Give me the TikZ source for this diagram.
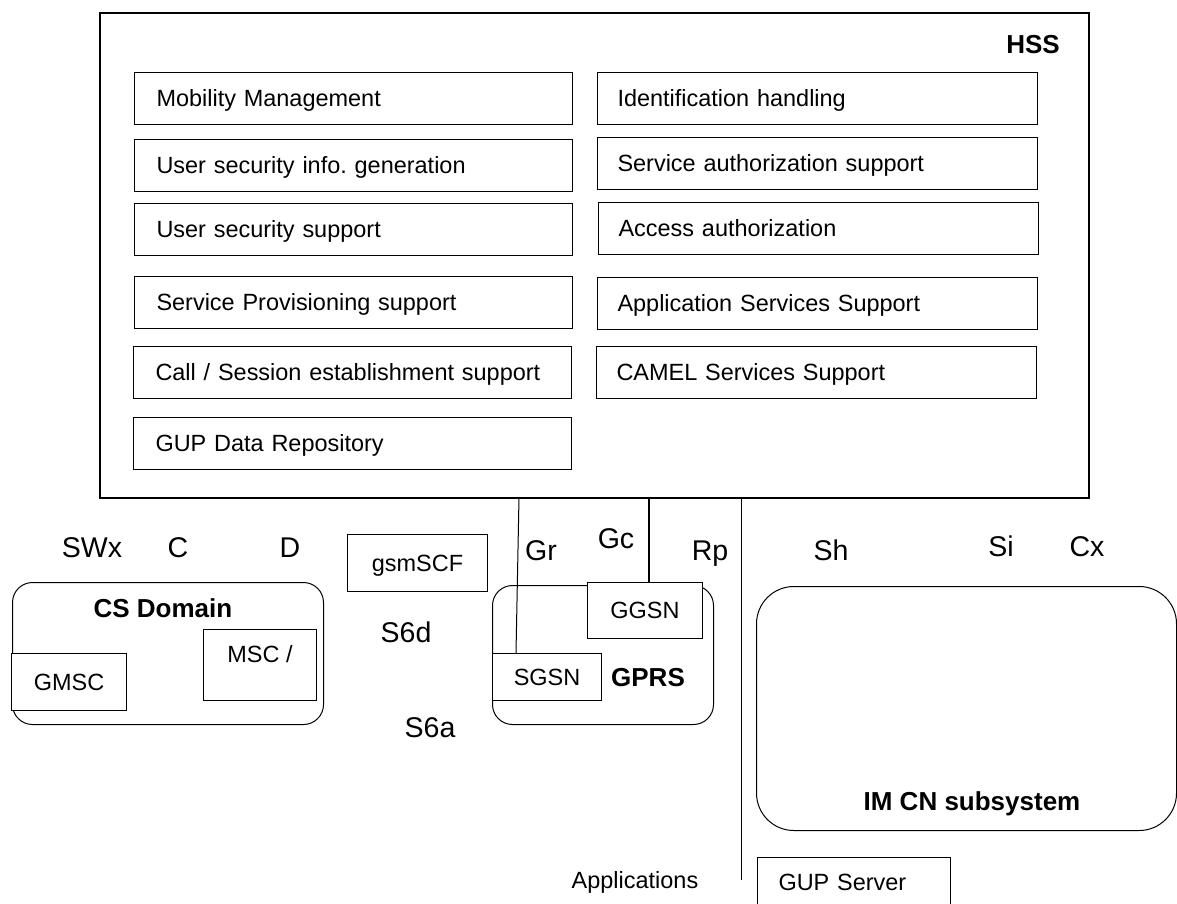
\documentclass[tikz,border=0pt]{standalone}
\usepackage{fontspec}
\setmainfont{Liberation Sans}
\usetikzlibrary{calc}
\frenchspacing
\newcommand\fbx{\fontsize{17.6pt}{20pt}\selectfont}
\newcommand\flab{\fontsize{21.4pt}{24pt}\selectfont}
\newcommand\fbld{\fontsize{19.5pt}{22pt}\selectfont\bfseries}
\begin{document}
\begin{tikzpicture}[x=0.75pt,y=-0.75pt,
  fnL/.style={draw, line width=0.75pt, anchor=north west, minimum height=39pt,
    inner ysep=0pt, inner xsep=16.5pt, text width=295.5pt, align=left,
    text height=12.6pt, text depth=0pt, font=\fbx},
  fnR/.style={fnL, inner xsep=15pt, text width=300pt},
  ebox/.style={draw, line width=0.75pt, fill=white, font=\fbx, inner sep=0pt,
    text height=12.6pt, text depth=0pt, anchor=north west},
  rdombox/.style={draw, line width=0.75pt, rounded corners=15pt, inner sep=0pt, anchor=north west},
  lbl/.style={font=\flab, anchor=base, inner sep=0pt},
  blbl/.style={font=\fbld, anchor=base, inner sep=0pt},
  link/.style={line width=0.75pt}]

\useasboundingbox (0,0) rectangle (1177,903);
\fill[white] (0,0) rectangle (1177,903);

% HSS
\node[draw, line width=1.5pt, anchor=north west, minimum width=741.75pt,
      minimum height=363.75pt, inner sep=0pt] (hss) at (99,12) {};
\node[blbl, anchor=base east] (hsslbl) at (1060,53) {HSS};

\node[fnL] (mm)    at (134,72)  {Mobility Management};
\node[fnL] (usig)  at (134,139) {User security info.\ generation};
\node[fnL] (uss)   at (134,203) {User security support};
\node[fnL] (sps)   at (134,276) {Service Provisioning support};
\node[fnL] (cses)  at (133,346) {Call / Session establishment support};
\node[fnL] (gupdr) at (133,417) {GUP Data Repository};

\node[fnR] (idh) at (597,72)  {Identification handling};
\node[fnR] (sas) at (597,137) {Service authorization support};
\node[fnR] (aa)  at (598,202) {Access authorization};
\node[fnR] (ass) at (597,277) {Application Services Support};
\node[fnR] (css) at (596,346) {CAMEL Services Support};

% CS domain
\node[rdombox, minimum width=233.25pt, minimum height=106.5pt] (cs) at (12,582) {};
\node[blbl] (cslbl) at (163,617) {CS Domain};
\node[ebox, minimum width=86.25pt, minimum height=42.75pt] (gmsc) at (11,653) {GMSC};
\node[ebox, minimum width=84.75pt, minimum height=53.25pt,
      text height=24.75pt, text depth=28.5pt] (msc) at (203,629) {MSC /};

% gsmSCF
\node[ebox, minimum width=105pt, minimum height=42.75pt] (gsmscf) at (347,534) {gsmSCF};

% GPRS
\node[rdombox, minimum width=165.75pt, minimum height=104.25pt] (gprs) at (492,585) {};
\node[ebox, minimum width=86.25pt, minimum height=42pt] (ggsn) at (587,582) {GGSN};
\node[ebox, minimum width=81.75pt, minimum height=35.25pt] (sgsn) at (492,653) {SGSN};
\node[blbl] (gprslbl) at (648,686) {GPRS};

% IM CN subsystem
\node[rdombox, rounded corners=28pt, minimum width=315pt, minimum height=183pt] (imcn) at (756,586) {};
\node[blbl] (imlbl) at (972,810) {IM CN subsystem};

% GUP Server
\node[ebox, minimum width=144.75pt, minimum height=37.5pt, inner xsep=15.75pt,
      text width=113.25pt, align=left] (gups) at (757,857) {GUP Server};

% connectors
\coordinate (grT) at (519,497);
\coordinate (gcT) at (649,497);
\coordinate (rpT) at (741,497);
\coordinate (rpB) at (741,880);
\draw[link] (grT) -- ($(sgsn.north west)+(24,0)$);
\draw[line width=1.2pt] (gcT) -- (gcT |- ggsn.north);
\draw[link] (rpT) -- (rpB);

% reference point labels
\node[lbl] (swx) at (92,557)  {SWx};
\node[lbl] (c)   at (178,557) {C};
\node[lbl] (d)   at (290,557) {D};
\node[lbl] (gr)  at (541,560) {Gr};
\node[lbl] (gc)  at (616,548) {Gc};
\node[lbl] (rp)  at (710,560) {Rp};
\node[lbl] (sh)  at (831,560) {Sh};
\node[lbl] (si)  at (1001,556) {Si};
\node[lbl] (cx)  at (1087,556) {Cx};
\node[lbl] (s6d) at (406,642) {S6d};
\node[lbl] (s6a) at (430,737) {S6a};
\node[font=\fbx, anchor=base, inner sep=0pt] (apps) at (635,888) {Applications};
\end{tikzpicture}
\end{document}
